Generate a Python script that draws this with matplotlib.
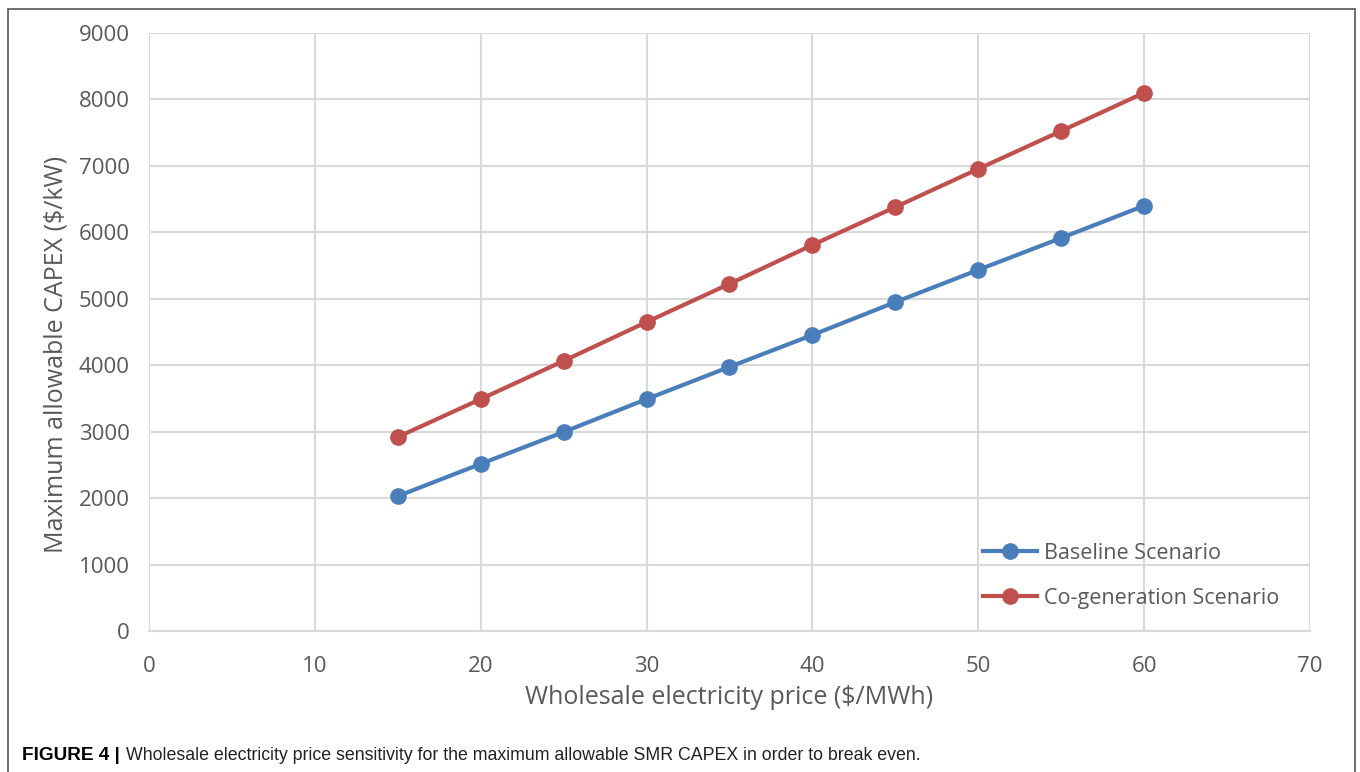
import matplotlib.pyplot as plt
from matplotlib.patches import Rectangle

# 데이터
price = [15, 20, 25, 30, 35, 40, 45, 50, 55, 60]
baseline = [2030, 2515, 2995, 3490, 3975, 4455, 4950, 5435, 5915, 6400]
cogen = [2920, 3490, 4065, 4650, 5225, 5810, 6380, 6955, 7525, 8100]
x_ticks = [0, 10, 20, 30, 40, 50, 60, 70]
y_ticks = [0, 1000, 2000, 3000, 4000, 5000, 6000, 7000, 8000, 9000]

blue = '#4A7EBB'
red = '#C0504D'
gray = '#595959'

fig = plt.figure(figsize=(13.6, 7.72), dpi=100)
ax = fig.add_axes([149 / 1360, 1 - 631 / 772, (1310 - 149) / 1360, (631 - 33) / 772])

ax.plot(price, baseline, color=blue, lw=3, marker='o', ms=11, label='Baseline Scenario')
ax.plot(price, cogen, color=red, lw=3, marker='o', ms=11, label='Co-generation Scenario')

ax.set_xlim(0, 70)
ax.set_ylim(0, 9000)
ax.set_xticks(x_ticks)
ax.set_yticks(y_ticks)
ax.grid(True, color='#D9D9D9', lw=1.5)
ax.set_axisbelow(True)
for s in ['top', 'right', 'left']:
    ax.spines[s].set_visible(False)
ax.spines['bottom'].set_color('#D9D9D9')
ax.spines['bottom'].set_linewidth(1.5)
ax.tick_params(length=0, labelsize=16, labelcolor=gray)
ax.tick_params(axis='x', pad=18)
ax.tick_params(axis='y', pad=14)
for lab in ax.get_xticklabels() + ax.get_yticklabels():
    lab.set_family('Open Sans')

ax.set_xlabel('Wholesale electricity price ($/MWh)', fontsize=18, color=gray,
              family='Open Sans', labelpad=6)
ax.set_ylabel('Maximum allowable CAPEX ($/kW)', fontsize=18, color=gray,
              family='Open Sans', labelpad=8)
ax.yaxis.set_label_coords(-0.069, 0.463)

leg = ax.legend(loc='lower right', bbox_to_anchor=(0.99, 0.005), frameon=False,
                prop={'family': 'Open Sans', 'size': 15.5}, labelcolor=gray,
                handlelength=2.5, labelspacing=1.1, handletextpad=0.3)

# 테두리
fig.patches.append(Rectangle((8 / 1360, -0.05), (1355 - 8) / 1360, 1.05 - 9 / 772,
                             transform=fig.transFigure, fill=False,
                             edgecolor='#555555', lw=1.2))

# 캡션
fig.text(22 / 1360, 1 - 755 / 772, 'FIGURE 4 |', fontsize=13.7, fontweight='bold',
         family='Liberation Sans', va='center')
fig.text(126 / 1360, 1 - 755 / 772,
         'Wholesale electricity price sensitivity for the maximum allowable SMR CAPEX in order to break even.',
         fontsize=12.8, family='Liberation Sans', va='center', color='#222222')

fig.savefig('out.png', dpi=100)
